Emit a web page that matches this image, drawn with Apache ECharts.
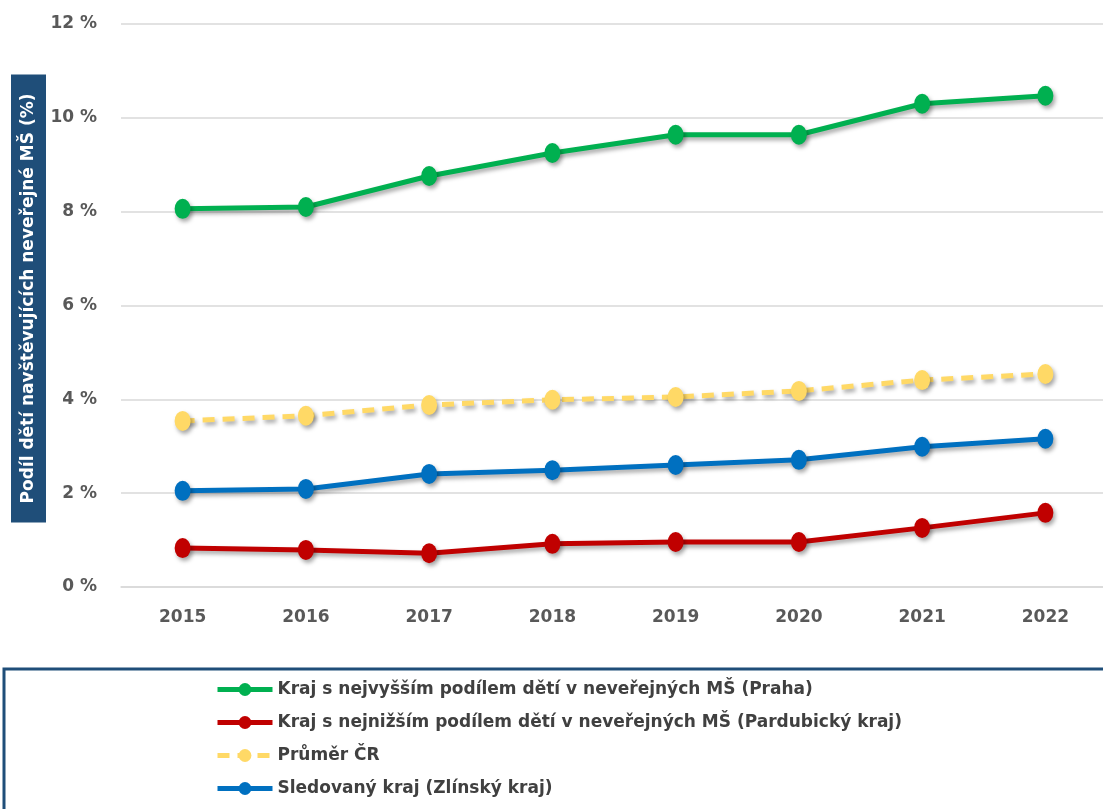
<!DOCTYPE html>
<html>
<head>
<meta charset="utf-8">
<script src="https://cdn.jsdelivr.net/npm/echarts@6/dist/echarts.min.js"></script>
<style>
    html, body { margin: 0; padding: 0; background: #fff; }
    #chart { width: 1103px; height: 809px; }
</style>
</head>
<body>
<div id="chart"></div>
<script>
const years = ["2015", "2016", "2017", "2018", "2019", "2020", "2021", "2022"];
const praha = [8.06, 8.10, 8.76, 9.25, 9.64, 9.64, 10.30, 10.47];
const pardubicky = [0.83, 0.79, 0.72, 0.92, 0.96, 0.96, 1.26, 1.58];
const prumerCR = [3.54, 3.65, 3.88, 3.99, 4.05, 4.18, 4.41, 4.54];
const zlinsky = [2.05, 2.09, 2.41, 2.49, 2.60, 2.71, 2.99, 3.16];

const names = [
    "Kraj s nejvyšším podílem dětí v neveřejných MŠ (Praha)",
    "Kraj s nejnižším podílem dětí v neveřejných MŠ (Pardubický kraj)",
    "Průměr ČR",
    "Sledovaný kraj (Zlínský kraj)",
];
const yTitle = "Podíl dětí navštěvujících neveřejné MŠ (%)";

const font = "'DejaVu Sans', sans-serif";
const shadow = {
    shadowColor: "rgba(0,0,0,0.35)",
    shadowBlur: 4,
    shadowOffsetX: 2,
    shadowOffsetY: 3,
};

function makeSeries(name, data, color, dashed) {
    return {
        name: name,
        type: "line",
        data: data,
        symbol: "circle",
        symbolSize: [16, 20],
        lineStyle: Object.assign({ color: color, width: 5, type: dashed ? [12, 8] : "solid" }, shadow),
        itemStyle: Object.assign({ color: color }, shadow),
        emphasis: { disabled: true },
    };
}

const chart = echarts.init(document.getElementById("chart"));
chart.setOption({
    animation: false,
    textStyle: { fontFamily: font },
    grid: { left: 121, right: -4, top: 24, bottom: 222, outerBoundsMode: "none" },
    graphic: [
        {
            type: "rect",
            shape: { x: 4, y: 669, width: 1120, height: 160 },
            style: { fill: "#fff", stroke: "#1F4E79", lineWidth: 3 },
            z: -1,
        },
        {
            type: "text",
            x: 28.5,
            y: 298.5,
            rotation: Math.PI / 2,
            style: {
                text: yTitle,
                fill: "#fff",
                backgroundColor: "#1F4E79",
                font: "bold 17px " + font,
                align: "center",
                verticalAlign: "middle",
                padding: [10, 19, 8, 19],
            },
        },
    ],
    legend: {
        orient: "vertical",
        left: 210,
        top: 676,
        itemWidth: 55,
        itemHeight: 16,
        itemGap: 16,
        lineStyle: { width: 5, shadowBlur: 0, shadowOffsetX: 0, shadowOffsetY: 0 },
        itemStyle: { shadowBlur: 0, shadowOffsetX: 0, shadowOffsetY: 0 },
        textStyle: { fontFamily: font, fontSize: 17, color: "#404040", fontWeight: "bold" },
        data: names,
    },
    xAxis: {
        type: "category",
        data: years,
        boundaryGap: true,
        axisLine: { lineStyle: { color: "#D9D9D9", width: 1.5 } },
        axisTick: { show: false },
        axisLabel: { color: "#595959", fontSize: 17, fontWeight: "bold", margin: 22, fontFamily: font },
    },
    yAxis: {
        type: "value",
        min: 0,
        max: 12,
        interval: 2,
        axisLine: { show: false },
        axisTick: { show: false },
        splitLine: { lineStyle: { color: "#D9D9D9", width: 1.5 } },
        axisLabel: {
            color: "#595959",
            fontSize: 17,
            fontWeight: "bold",
            margin: 24,
            fontFamily: font,
            formatter: function (v) { return v + " %"; },
        },
    },
    series: [
        makeSeries(names[0], praha, "#00B050", false),
        makeSeries(names[1], pardubicky, "#C00000", false),
        makeSeries(names[2], prumerCR, "#FFD966", true),
        makeSeries(names[3], zlinsky, "#0070C0", false),
    ],
});
</script>
</body>
</html>
